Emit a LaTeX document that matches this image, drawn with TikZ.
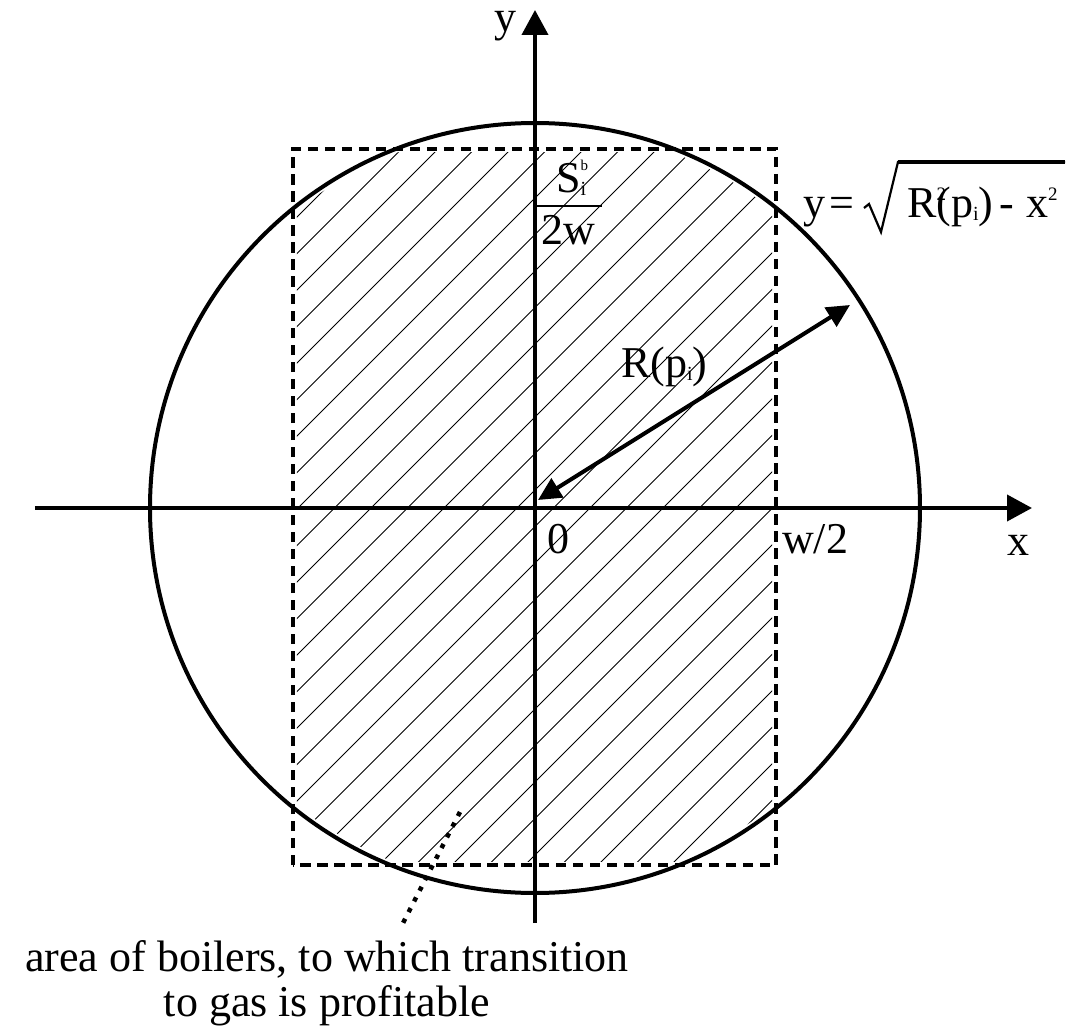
\documentclass[tikz,border=0pt]{standalone}
\usepackage{fontspec}
\setmainfont{Liberation Serif}
\usetikzlibrary{arrows.meta}
\newcommand{\tinysub}[1]{\raisebox{-3pt}{\fontsize{20}{20}\selectfont #1}}
\newcommand{\tinysup}[1]{\raisebox{17pt}{\fontsize{19}{19}\selectfont #1}}
\newcommand{\tinybsup}[1]{\raisebox{22pt}{\fontsize{15}{15}\selectfont #1}}
\begin{document}
\begin{tikzpicture}[x=1pt,y=1pt,
  axisline/.style={line width=4pt,-{Triangle[length=25pt,width=26pt]}},
  circleline/.style={line width=4pt},
  rectline/.style={line width=4pt,dash pattern=on 10.5pt off 6.5pt},
  hatchline/.style={line width=0.9pt},
  radiusarrow/.style={line width=4pt,{Triangle[length=23pt,width=22pt]}-{Triangle[length=23pt,width=22pt]}},
  leader/.style={line width=4.5pt,dash pattern=on 4.5pt off 7.5pt},
  lbl/.style={font=\fontsize{44}{45}\selectfont,inner sep=0pt},
  radical/.style={line width=2.2pt,line join=miter}]
\useasboundingbox (-535,-518) rectangle (536,508);
% hatching inside rectangle and circle
\begin{scope}
  \clip (-238,-353) rectangle (237,355);
  \clip (0,0) circle (381);
  \foreach \k in {-30,...,30} {
    \draw[hatchline] ({18.5+36.5*\k-450},-450) -- ({18.5+36.5*\k+450},450);
  }
\end{scope}
% circle and rectangle
\draw[circleline] (0,0) circle (385);
\draw[rectline] (-242,-357) rectangle (241,359);
% axes
\coordinate (xs) at (-500,0);
\coordinate (xe) at (497,0);
\coordinate (ys) at (0,-415);
\coordinate (ye) at (0,498);
\draw[axisline] (xs) -- (xe);
\draw[axisline] (ys) -- (ye);
% radius arrow
\coordinate (rA) at (3,8);
\coordinate (rB) at (315,203);
\draw[radiusarrow] (rA) -- (rB);
% labels
\node[lbl,anchor=base west,text height=21pt,text depth=10pt] (ylab) at (-41,476) {y};
\node[lbl,anchor=base west] (xlab) at (472,-47) {x};
\node[lbl,anchor=base west] (zero) at (12,-45) {0};
\node[lbl,anchor=base west] (wlab) at (247,-45) {w/2};
\node[lbl,anchor=base west] (rlab) at (86,131) {R(p\tinysub{i})};
% fraction S_i^b / 2w
\node[lbl,anchor=base west] (snum) at (21,315) {S\rlap{\tinybsup{b}}\tinysub{i}};
\node[lbl,anchor=base west] (sden) at (6,263) {2w};
\coordinate (fb1) at (0,302);
\coordinate (fb2) at (67,302);
\draw[line width=2pt] (fb1) -- (fb2);
% equation
\node[lbl,anchor=base west] (eqL) at (268,290) {y\kern4pt=};
\node[lbl,anchor=base west] (eqR) at (372,290) {R\rlap{\tinysup{2}}(p\tinysub{i})\kern6pt-\kern12pt x\tinysup{2}};
\draw[radical] (329,300) -- (334,304) -- (346,276) -- (363,346) -- (530,346);
\draw[line width=4.5pt] (363,346) -- (530,346);
% bottom annotation
\node[lbl,align=center] (boil) at (-208,-475) {area of boilers, to which transition\\to gas is profitable};
\coordinate (dA) at (-75,-304);
\coordinate (dB) at (-133,-417);
\draw[leader] (dA) -- (dB);
\end{tikzpicture}
\end{document}
